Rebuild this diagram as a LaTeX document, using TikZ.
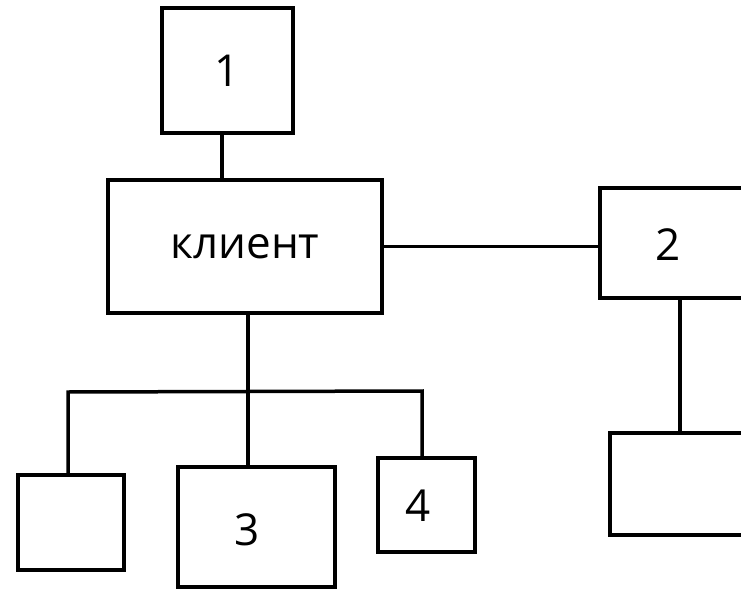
\documentclass[tikz,border=0pt]{standalone}
\usepackage{fontspec}
\setmainfont{Open Sans}
\begin{document}
\begin{tikzpicture}[x=1pt,y=-1pt,
  box/.style={draw=black,line width=3.5pt,rectangle,inner sep=0pt,font=\fontsize{44}{50}\selectfont},
  lbl/.style={inner sep=0pt,font=\fontsize{44}{50}\selectfont},
  conn/.style={draw=black,line width=3.5pt}]
\useasboundingbox[fill=white] (0,0) rectangle (741,591);
\clip (0,0) rectangle (741,591);
% boxes
\node[box,minimum width=131pt,minimum height=125pt] (b1) at (227.5,70.5) {1};
\node[box,minimum width=274pt,minimum height=133pt] (k) at (245,246.5) {клиент};
\node[box,minimum width=170pt,minimum height=110pt] (b2) at (685,243) {};
\node[lbl] (t2) at (668,245) {2};
\node[box,minimum width=160pt,minimum height=102pt] (b5) at (690,484) {};
\node[box,minimum width=106pt,minimum height=95pt] (b0) at (71,522.5) {};
\node[box,minimum width=157pt,minimum height=120pt] (b3) at (256.5,527) {};
\node[lbl] (t3) at (247,530) {3};
\node[box,minimum width=97pt,minimum height=94pt] (b4) at (426.5,505) {};
\node[lbl] (t4) at (418,506) {4};
% helper coordinates
\coordinate (c1) at (222,0);
\coordinate (c2) at (680,0);
\coordinate (bar) at (248,390);
\coordinate (bl) at (68,392);
\coordinate (br) at (422,391);
% connectors
\draw[conn] (b1.south -| c1) -- (k.north -| c1);
\draw[conn] (k.east) -- (k.east -| b2.west);
\draw[conn] (b2.south -| c2) -- (b5.north -| c2);
\draw[conn] (k.south -| bar) -- (bar) -- (b3.north -| bar);
\draw[conn] (b0.north -| bl) -- (bl) -- (br) -- (b4.north -| br);
\end{tikzpicture}
\end{document}
